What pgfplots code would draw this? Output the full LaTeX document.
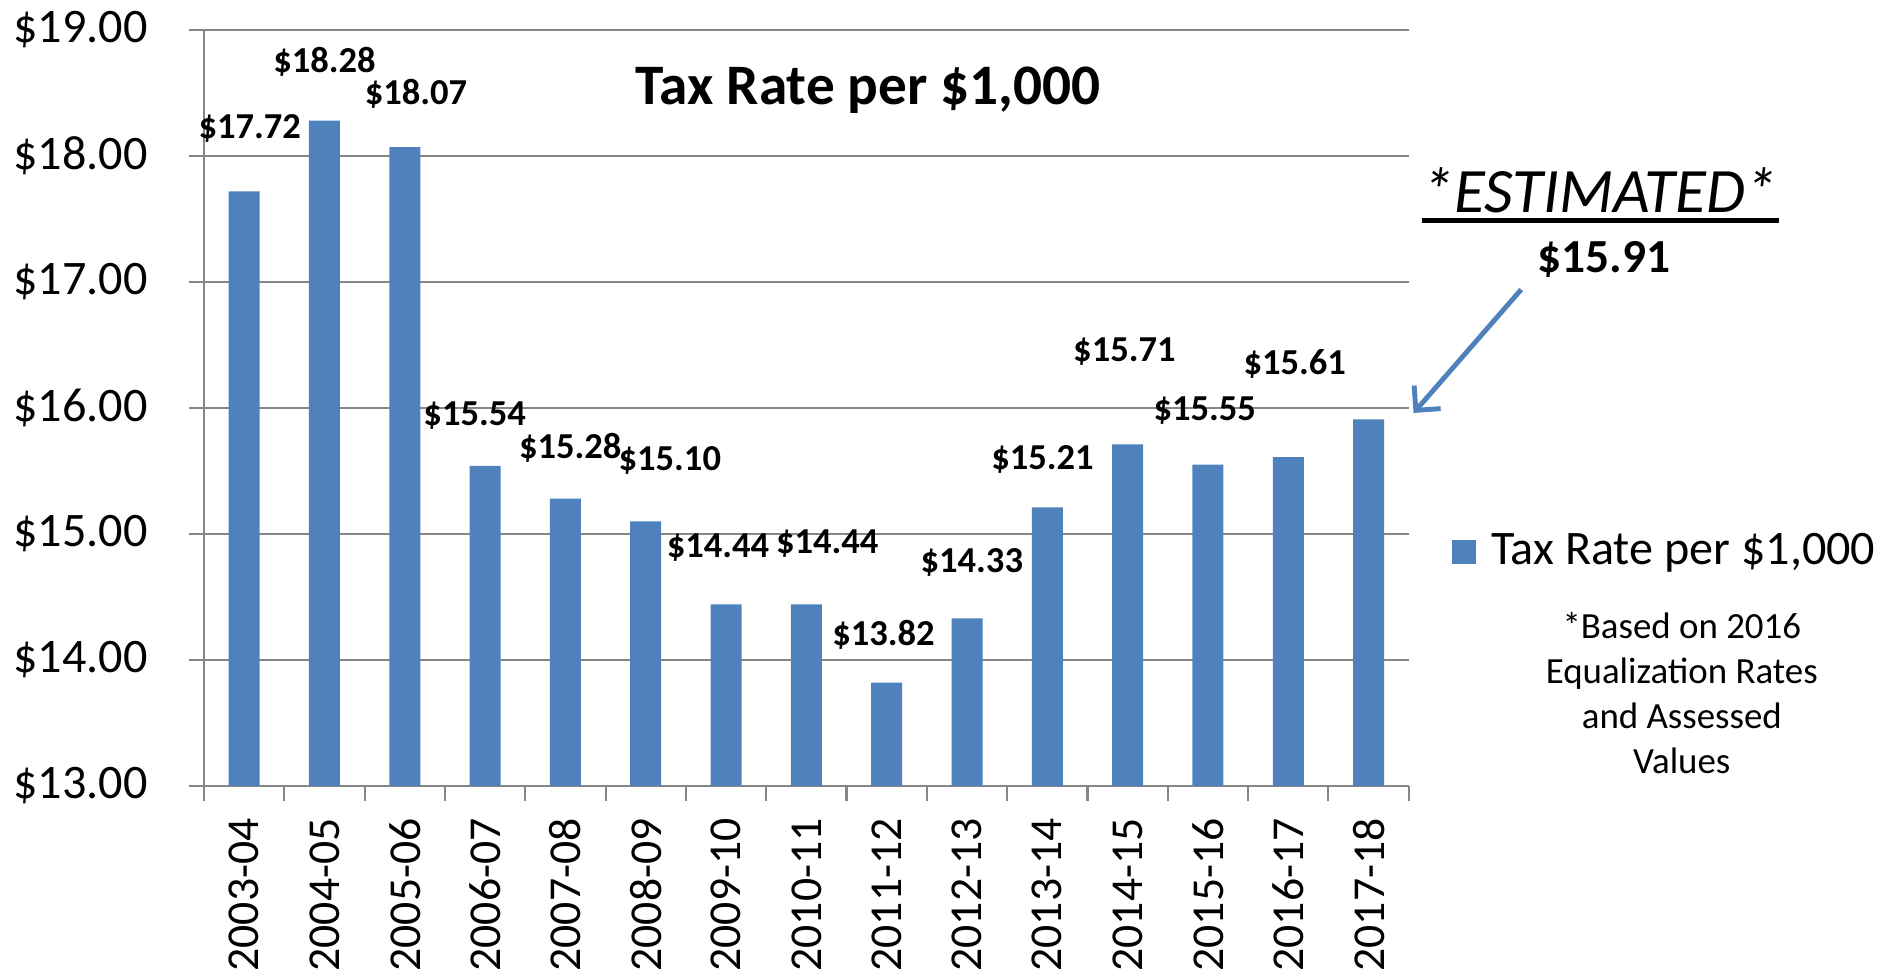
\documentclass[border=0pt]{standalone}
\usepackage{fontspec}
\setmainfont{Carlito}
\usepackage{pgfplots}
\pgfplotsset{compat=1.18}
\usetikzlibrary{arrows.meta}
\definecolor{barblue}{HTML}{4F81BD}
\definecolor{axgray}{HTML}{868686}

\begin{document}
\begin{tikzpicture}
\begin{axis}[
  width=12.05cm, height=7.56cm, scale only axis,
  clip mode=individual,
  xmin=-0.5, xmax=14.5, ymin=13, ymax=19,
  ybar, bar width=0.31cm,
  axis lines*=left,
  axis line style={axgray, line width=0.6pt},
  ymajorgrids, grid style={axgray, line width=0.6pt},
  ytick={13,...,19},
  yticklabel={\$\pgfmathprintnumber[fixed,fixed zerofill,precision=2]{\tick}},
  /pgf/number format/assume math mode=true,
  xtick={0,...,14},
  xticklabels={2003-04,2004-05,2005-06,2006-07,2007-08,2008-09,2009-10,2010-11,2011-12,2012-13,2013-14,2014-15,2015-16,2016-17,2017-18},
  minor xtick={-0.5,0.5,...,14.5},
  tick align=outside,
  major tick length=0.15cm, minor tick length=0.15cm,
  tick style={axgray, line width=0.6pt},
  major x tick style={draw=none},
  x tick label style={rotate=90, anchor=east, inner sep=0pt,
    font=\fontsize{13}{15}\selectfont, xshift=-0.17cm},
  y tick label style={font=\fontsize{13.7}{15}\selectfont, xshift=-0.29cm},
  legend style={at={(1.0357,0.31)}, anchor=west, draw=none, fill=none,
    inner sep=0pt, outer sep=0pt,
    font=\fontsize{13.7}{15}\selectfont},
  legend image code/.code={\fill[barblue] (0cm,-0.12cm) rectangle (0.24cm,0.12cm);
    \path (0.324cm,0cm);},
]
\addplot[fill=barblue, draw=none] coordinates {
  (0,17.72)(1,18.28)(2,18.07)(3,15.54)(4,15.28)(5,15.10)(6,14.44)(7,14.44)
  (8,13.82)(9,14.33)(10,15.21)(11,15.71)(12,15.55)(13,15.61)(14,15.91)
};
\addlegendentry{Tax Rate per \$1,000}

% data labels, placed where the original puts them
\begin{scope}[every node/.style={font=\bfseries\fontsize{10.4}{12}\selectfont, inner sep=0pt}]
\node at (axis cs:0.07,18.22) {\$17.72};
\node at (axis cs:1.00,18.75) {\$18.28};
\node at (axis cs:2.14,18.49) {\$18.07};
\node at (axis cs:2.87,15.94) {\$15.54};
\node at (axis cs:4.06,15.68) {\$15.28};
\node at (axis cs:5.30,15.58) {\$15.10};
\node at (axis cs:5.90,14.89) {\$14.44};
\node at (axis cs:7.26,14.92) {\$14.44};
\node at (axis cs:7.96,14.20) {\$13.82};
\node at (axis cs:9.06,14.77) {\$14.33};
\node at (axis cs:9.94,15.59) {\$15.21};
\node at (axis cs:10.96,16.45) {\$15.71};
\node at (axis cs:11.96,15.98) {\$15.55};
\node at (axis cs:13.08,16.35) {\$15.61};
\end{scope}

\node[font=\bfseries\fontsize{16.3}{18}\selectfont] at (axis cs:7.77,18.52) {Tax Rate per \$1,000};

\node[font=\itshape\fontsize{18}{20}\selectfont] at (axis cs:16.88,17.73) {*ESTIMATED*};
\draw[black, line width=1.4pt] (axis cs:14.66,17.49) -- (axis cs:19.11,17.49);
\node[font=\bfseries\fontsize{13.5}{15}\selectfont] at (axis cs:16.93,17.18) {\$15.91};
\draw[barblue, line width=1.4pt, -{Straight Barb[length=5pt,width=10pt]}] (axis cs:15.90,16.94) -- (axis cs:14.56,15.96);

\node[align=center, font=\fontsize{10.5}{12.8}\selectfont] at (axis cs:17.90,13.74)
  {*Based on 2016\\Equalization Rates\\and Assessed\\Values};

\path (axis cs:-3.04,11.48) rectangle (axis cs:20.43,19.23);
\end{axis}
\end{tikzpicture}
\end{document}
